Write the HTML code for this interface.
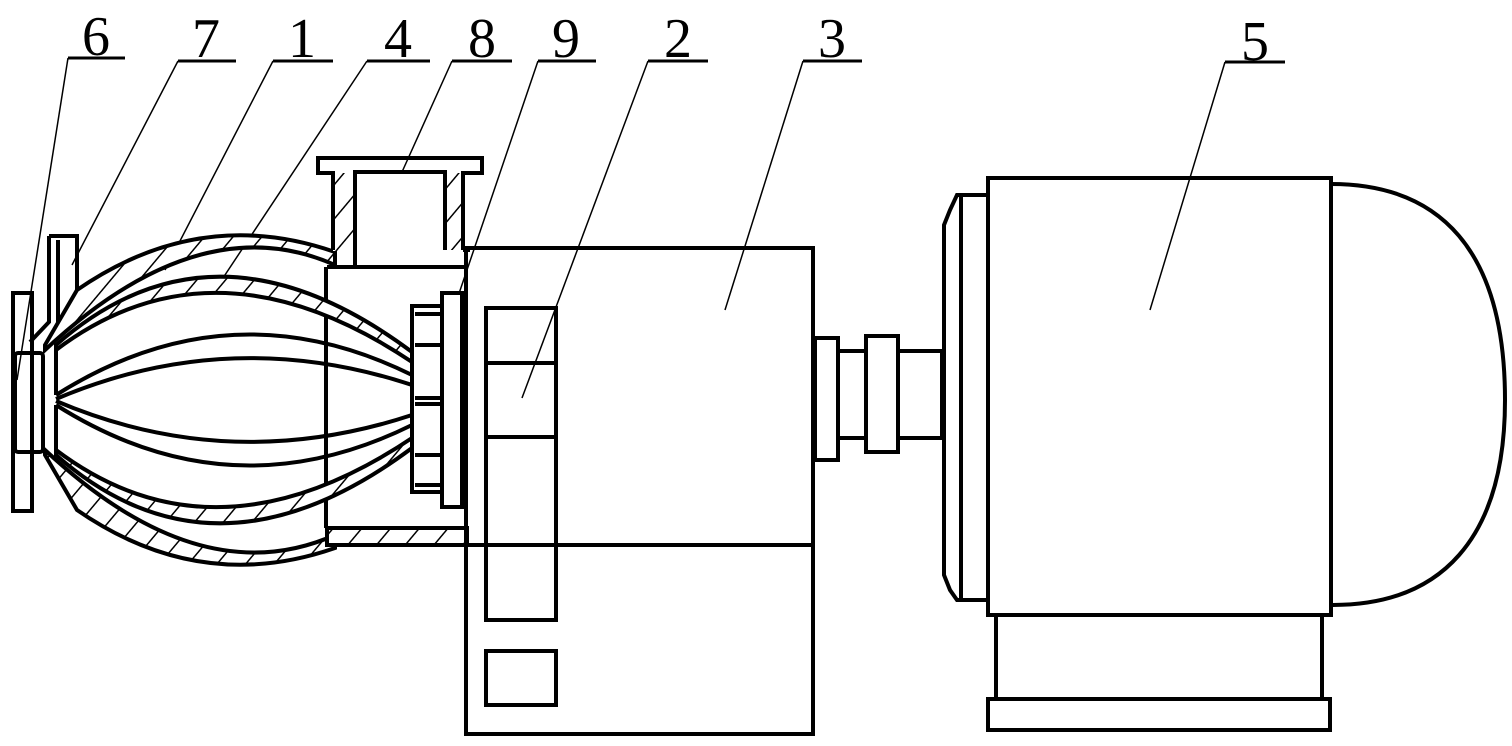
<!DOCTYPE html>
<html><head><meta charset="utf-8"><style>
html,body{margin:0;padding:0;background:#fff;}
svg{display:block;}
text{font-family:"Liberation Serif",serif;font-size:56px;fill:#000;}
</style></head><body>
<svg width="1512" height="746" viewBox="0 0 1512 746" xmlns="http://www.w3.org/2000/svg">
<defs>
<pattern id="h" patternUnits="userSpaceOnUse" width="22" height="22" patternTransform="rotate(40)">
<rect width="22" height="22" fill="#fff"/><line x1="0" y1="0" x2="0" y2="22" stroke="#000" stroke-width="3"/>
</pattern>
</defs>
<g fill="none" stroke="#000" stroke-width="4">
<g stroke="none">
<text x="96" y="55" text-anchor="middle">6</text>
<text x="206" y="57" text-anchor="middle">7</text>
<text x="302" y="57" text-anchor="middle">1</text>
<text x="398" y="57" text-anchor="middle">4</text>
<text x="482" y="57" text-anchor="middle">8</text>
<text x="566" y="57" text-anchor="middle">9</text>
<text x="678" y="57" text-anchor="middle">2</text>
<text x="832" y="57" text-anchor="middle">3</text>
<text x="1255" y="60" text-anchor="middle">5</text>
</g>
<g stroke-width="3">
<line x1="68" y1="58" x2="125" y2="58"/>
<line x1="178" y1="61" x2="236" y2="61"/>
<line x1="273" y1="61" x2="333" y2="61"/>
<line x1="367" y1="61" x2="430" y2="61"/>
<line x1="452" y1="61" x2="512" y2="61"/>
<line x1="538" y1="61" x2="596" y2="61"/>
<line x1="648" y1="61" x2="708" y2="61"/>
<line x1="803" y1="61" x2="862" y2="61"/>
<line x1="1225" y1="62" x2="1285" y2="62"/>
</g>
<g stroke-width="1.5">
<line x1="68" y1="58" x2="17" y2="380"/>
<line x1="178" y1="61" x2="72" y2="265"/>
<line x1="273" y1="61" x2="165" y2="270"/>
<line x1="367" y1="61" x2="215" y2="290"/>
<line x1="452" y1="61" x2="402" y2="172"/>
<line x1="538" y1="61" x2="433" y2="370"/>
<line x1="648" y1="61" x2="522" y2="398"/>
<line x1="803" y1="61" x2="725" y2="310"/>
<line x1="1225" y1="62" x2="1150" y2="310"/>
</g>

<!-- pump: flanges -->
<rect x="13" y="293" width="19" height="218"/>
<rect x="15" y="353" width="28" height="99" rx="3"/>
<path d="M49,236 H77 V290"/>
<path d="M49,236 V322 L30,342"/>
<line x1="58" y1="240" x2="58" y2="325"/>
<!-- shell hatched top & bottom -->
<path d="M77,290 Q200,205 335,252 L335,265 Q200,205 45,350 L45,345 Z" fill="url(#h)"/>
<path d="M77,510 Q200,595 335,548 L335,535 Q200,595 45,450 L45,455 Z" fill="url(#h)"/>
<!-- bottom pipe -->
<rect x="327" y="528" width="140" height="17" fill="url(#h)"/>
<!-- pipe 8 -->
<rect x="333" y="173" width="20" height="78" fill="url(#h)" stroke="none"/>
<rect x="445" y="173" width="18" height="77" fill="url(#h)" stroke="none"/>
<path d="M333,250 V173 H318 V158 H482 V173 H463 V250"/>
<path d="M355,266 V172 H445 V250"/>
<line x1="327" y1="267" x2="467" y2="267"/>
<line x1="326" y1="267" x2="326" y2="528"/>
<line x1="463" y1="250" x2="470" y2="250"/>
<!-- cage 4 hatched bands -->
<path d="M56,345 Q215,205 412,352 L412,362 Q215,230 56,350 Z" fill="url(#h)"/>
<path d="M56,455 Q215,595 412,448 L412,438 Q215,570 56,450 Z" fill="url(#h)"/>
<!-- blades -->
<path d="M56,395 Q230,285 412,375"/>
<path d="M56,399 Q230,325 412,385"/>
<path d="M56,405 Q230,515 412,425"/>
<path d="M56,401 Q230,475 412,415"/>
<path d="M56,350 L56,395 M56,405 L56,450"/>
<!-- nut 9 -->
<rect x="412" y="306" width="30" height="186" fill="#fff"/>
<rect x="442" y="293" width="20" height="214" fill="#fff"/>
<line x1="415" y1="314" x2="440" y2="314"/>
<line x1="415" y1="345" x2="440" y2="345"/>
<line x1="415" y1="398" x2="440" y2="398"/>
<line x1="415" y1="404" x2="440" y2="404"/>
<line x1="415" y1="455" x2="440" y2="455"/>
<line x1="415" y1="485" x2="440" y2="485"/>
<!-- box 3 -->
<rect x="466" y="248" width="347" height="486"/>
<line x1="466" y1="545" x2="813" y2="545"/>
<rect x="486" y="308" width="70" height="312"/>
<line x1="486" y1="363" x2="556" y2="363"/>
<line x1="486" y1="437" x2="556" y2="437"/>
<rect x="486" y="651" width="70" height="54"/>
<!-- shaft -->
<rect x="815" y="338" width="23" height="122"/>
<rect x="838" y="351" width="104" height="87"/>
<rect x="866" y="336" width="32" height="116" fill="#fff"/>
<!-- motor -->
<path d="M987,195 H957 L950,210 L944,225 V575 L950,590 L957,600 H987"/>
<line x1="961" y1="197" x2="961" y2="598"/>
<rect x="988" y="178" width="343" height="437"/>
<path d="M1331,184 C1440,184 1505,250 1505,400 C1505,540 1440,605 1333,605"/>
<rect x="996" y="615" width="326" height="84"/>
<rect x="988" y="699" width="342" height="31"/>
</g>
</svg>
</body></html>
